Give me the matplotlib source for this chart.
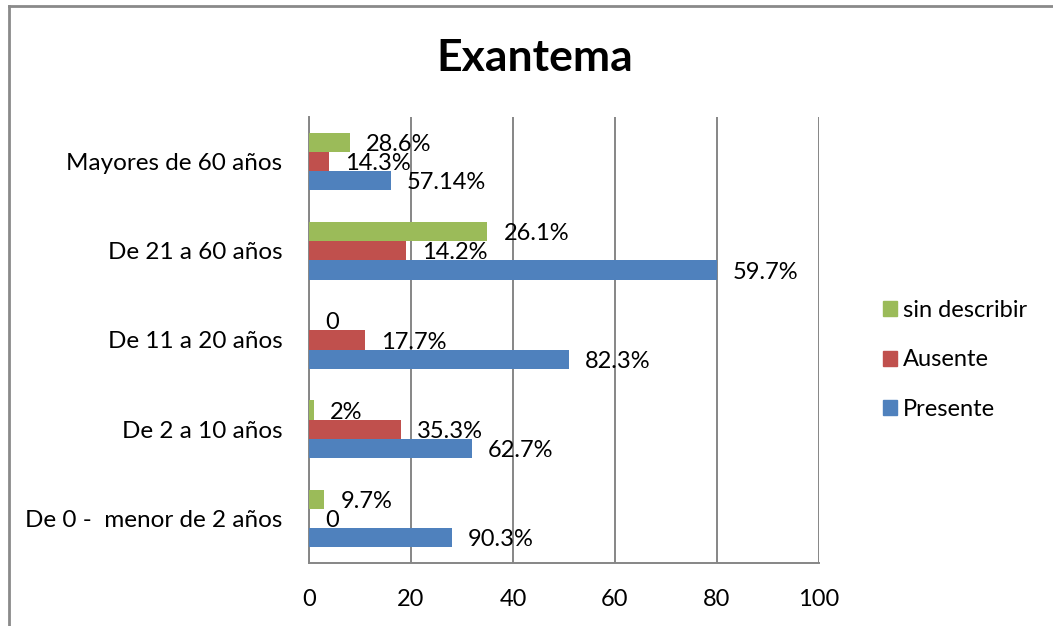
import matplotlib
import numpy as np

matplotlib.use("Agg")
import matplotlib.pyplot as plt
from matplotlib.patches import Patch
from matplotlib.lines import Line2D

plt.rcParams['font.family'] = ['Lato', 'DejaVu Sans']

# Data (bottom to top as drawn)
categories = ["De 0 -  menor de 2 años", "De 2 a 10 años", "De 11 a 20 años",
              "De 21 a 60 años", "Mayores de 60 años"]
presente = [28, 32, 51, 80, 16]
ausente = [0, 18, 11, 19, 4]
sin_describir = [3, 1, 0, 35, 8]
presente_lbl = ["90.3%", "62.7%", "82.3%", "59.7%", "57.14%"]
ausente_lbl = ["0", "35.3%", "17.7%", "14.2%", "14.3%"]
sin_lbl = ["9.7%", "2%", "0", "26.1%", "28.6%"]
x_ticks = [0, 20, 40, 60, 80, 100]

colors = {'Presente': '#4F81BD', 'Ausente': '#C0504D', 'sin describir': '#9BBB59'}
grid_col = '#868686'
fs = 17

fig = plt.figure(figsize=(10.53, 6.26), dpi=100)
ax = fig.add_axes([309 / 1053, 1 - 563 / 626, 510 / 1053, 446 / 626])

y = np.arange(len(categories))
h = 0.215
series = [
    (presente, presente_lbl, 'Presente', -h),
    (ausente, ausente_lbl, 'Ausente', 0.0),
    (sin_describir, sin_lbl, 'sin describir', h),
]
for vals, lbls, name, off in series:
    bars = ax.barh(y + off, vals, height=h, color=colors[name], zorder=3)
    for b, t in zip(bars, lbls):
        ax.annotate(t, (b.get_width(), b.get_y() + b.get_height() / 2),
                    xytext=(11.5, -1.5), textcoords='offset points',
                    ha='left', va='center', fontsize=fs, color='black', zorder=4)

ax.set_xlim(0, 100)
ax.set_ylim(-0.5, len(categories) - 0.5)
ax.set_xticks(x_ticks)
ax.set_yticks(y)
ax.set_yticklabels(categories, fontsize=17.5)
ax.tick_params(axis='x', length=0, pad=19, labelsize=fs)
ax.tick_params(axis='y', length=0, pad=19)

ax.grid(axis='x', color=grid_col, linewidth=1.4, zorder=0)
for s in ['top', 'right']:
    ax.spines[s].set_visible(False)
for s in ['left', 'bottom']:
    ax.spines[s].set_color(grid_col)
    ax.spines[s].set_linewidth(1.4)

fig.text(535 / 1053, 1 - 58 / 626, "Exantema", ha='center', va='center',
         fontsize=32, fontweight='bold')

handles = [Patch(color=colors[n]) for n in ['sin describir', 'Ausente', 'Presente']]
fig.legend(handles, ['sin describir', 'Ausente', 'Presente'],
           loc='center left', bbox_to_anchor=(883 / 1053, 1 - 360 / 626),
           frameon=False, fontsize=fs, handlelength=0.6, handleheight=0.6,
           handletextpad=0.25, labelspacing=1.2, borderpad=0, borderaxespad=0)

# outer chart border (left and top visible)
fig.add_artist(Line2D([8.5 / 1053, 8.5 / 1053], [0, 1 - 5.5 / 626],
                      transform=fig.transFigure, color='#8a8a8a', linewidth=2))
fig.add_artist(Line2D([8.5 / 1053, 1], [1 - 5.5 / 626, 1 - 5.5 / 626],
                      transform=fig.transFigure, color='#8a8a8a', linewidth=2))

fig.savefig("out.png", dpi=100)
